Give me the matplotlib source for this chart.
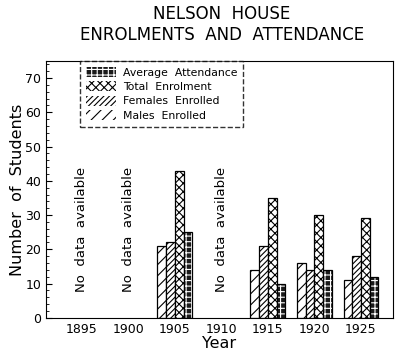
import numpy as np
import matplotlib.pyplot as plt
from matplotlib.ticker import MultipleLocator

years = ['1895', '1900', '1905', '1910', '1915', '1920', '1925']
males = [None, None, 21, None, 14, 16, 11]
females = [None, None, 22, None, 21, 14, 18]
total = [None, None, 43, None, 35, 30, 29]
average = [None, None, 25, None, 10, 14, 12]
no_data = ['1895', '1900', '1910']

plt.rcParams['font.family'] = 'DejaVu Sans'
plt.rcParams['hatch.linewidth'] = 0.8

fig = plt.figure(figsize=(4, 3.52), dpi=100)
ax = fig.add_axes([0.115, 0.097, 0.8675, 0.73])

x = np.arange(len(years))
w = 0.187

def draw(vals, off, hatch, fc, hc):
    xs = [x[i] + off for i, v in enumerate(vals) if v is not None]
    hs = [v for v in vals if v is not None]
    ax.bar(xs, hs, w, color=fc, edgecolor=hc, hatch=hatch, linewidth=0)
    ax.bar(xs, hs, w, color='none', edgecolor='black', linewidth=0.9)
    return plt.Rectangle((0, 0), 1, 1, facecolor=fc, edgecolor=hc, hatch=hatch, linewidth=0)

h_m = draw(males, -1.5 * w, '///', 'white', 'black')
h_f = draw(females, -0.5 * w, '//////', 'white', 'black')
h_t = draw(total, 0.5 * w, 'xxxx', 'white', 'black')
h_a = draw(average, 1.5 * w, '+++', '#1a1a1a', 'white')

for y in no_data:
    ax.text(years.index(y), 25.8, 'No  data  available', rotation=90,
            ha='center', va='center', fontsize=9.5)

ax.set_xlim(-0.77, 6.69)
ax.set_ylim(0, 75)
ax.set_xticks(x)
ax.set_xticklabels(years, fontsize=9)
ax.yaxis.set_major_locator(MultipleLocator(10))
ax.yaxis.set_minor_locator(MultipleLocator(2))
ax.tick_params(axis='y', direction='in', labelsize=9, length=4)
ax.tick_params(axis='y', which='minor', direction='in', length=2)
ax.tick_params(axis='x', length=0, pad=4)
ax.set_ylabel('Number  of  Students', fontsize=11.5, labelpad=0)
ax.set_xlabel('Year', fontsize=11.5, labelpad=0)

leg = ax.legend([h_a, h_t, h_f, h_m],
                ['Average  Attendance', 'Total  Enrolment', 'Females  Enrolled', 'Males  Enrolled'],
                loc='upper left', bbox_to_anchor=(0.082, 1.02), fontsize=7.8,
                frameon=True, fancybox=False, edgecolor='black',
                handlelength=2.8, handleheight=1.0, labelspacing=0.35,
                borderpad=0.55, handletextpad=0.6)
leg.get_frame().set_linestyle('--')

fig.text(0.555, 0.96, 'NELSON  HOUSE', ha='center', va='center', fontsize=12)
fig.text(0.555, 0.9, 'ENROLMENTS  AND  ATTENDANCE', ha='center', va='center', fontsize=12)

fig.savefig('out.png', dpi=100)
